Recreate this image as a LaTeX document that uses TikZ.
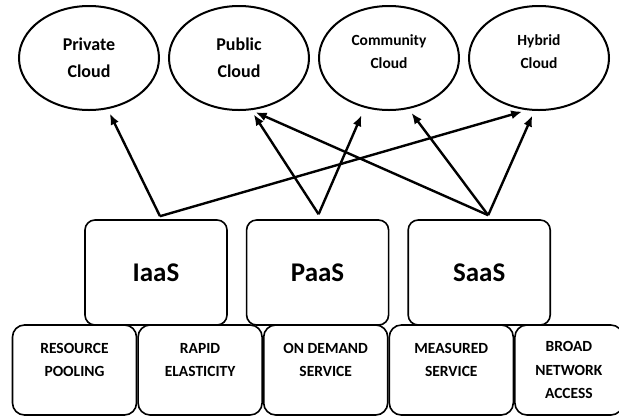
\documentclass[tikz,border=0pt]{standalone}
\usepackage{fontspec}
\setmainfont{Carlito}
\usetikzlibrary{arrows.meta,positioning,shapes.geometric}

\begin{document}
\begin{tikzpicture}[
    x=1pt, y=-1pt,
    cloud/.style={ellipse, draw, line width=2pt, minimum width=140pt, minimum height=104pt, inner sep=0pt, align=center},
    svcbox/.style={rectangle, draw, rounded corners=10pt, line width=1.6pt, minimum width=142pt, minimum height=105pt, font=\fontsize{27}{30}\selectfont\bfseries},
    featbox/.style={rectangle, draw, rounded corners=12pt, line width=1.6pt, minimum width=124pt, minimum height=90pt, align=center, font=\fontsize{15.5}{23.5}\selectfont\bfseries},
    arrow/.style={-{Latex[length=11pt,width=9pt]}, line width=2.4pt, shorten >=5pt}
]
\useasboundingbox (0,0) rectangle (619,416);
% deployment models
\node[cloud, font=\fontsize{18}{27}\selectfont\bfseries] (private) at (89,58) {Private\\Cloud};
\node[cloud, right=8pt of private, font=\fontsize{18}{27}\selectfont\bfseries] (public) {Public\\Cloud};
\node[cloud, right=8pt of public, font=\fontsize{15.5}{23}\selectfont\bfseries] (community) {Community\\Cloud\\[-10pt]};
\node[cloud, right=8pt of community, font=\fontsize{15.5}{23}\selectfont\bfseries] (hybrid) {Hybrid\\Cloud\\[-10pt]};
% service models
\node[svcbox] (iaas) at (156,272.5) {IaaS};
\node[svcbox, right=18pt of iaas] (paas) {PaaS};
\node[svcbox, right=18pt of paas] (saas) {SaaS};
% characteristics
\node[featbox, text depth=20pt] (pool) at (74.5,370) {RESOURCE\\POOLING};
\node[featbox, text depth=20pt, right=0pt of pool] (elastic) {RAPID\\ELASTICITY};
\node[featbox, text depth=20pt, right=0pt of elastic] (demand) {ON DEMAND\\SERVICE};
\node[featbox, text depth=20pt, right=0pt of demand] (measured) {MEASURED\\SERVICE};
\node[featbox, minimum width=108pt, right=0pt of measured] (broad) {BROAD\\NETWORK\\ACCESS};
\coordinate (iaastop) at ([xshift=4pt,yshift=3pt]iaas.north);
\coordinate (paastop) at ([xshift=1pt,yshift=5pt]paas.north);
\coordinate (saastop) at ([xshift=9pt,yshift=4pt]saas.north);
\draw[arrow] (iaastop) -- (private.-70);
\draw[arrow] (iaastop) -- (hybrid.-103);
\draw[arrow] (paastop) -- (public.-77);
\draw[arrow, shorten >=8pt] (paastop) -- (community.-116);
\draw[arrow] (saastop) -- (public.-77);
\draw[arrow] (saastop) -- (community.-69);
\draw[arrow] (saastop) -- (hybrid.-95);
\end{tikzpicture}
\end{document}
